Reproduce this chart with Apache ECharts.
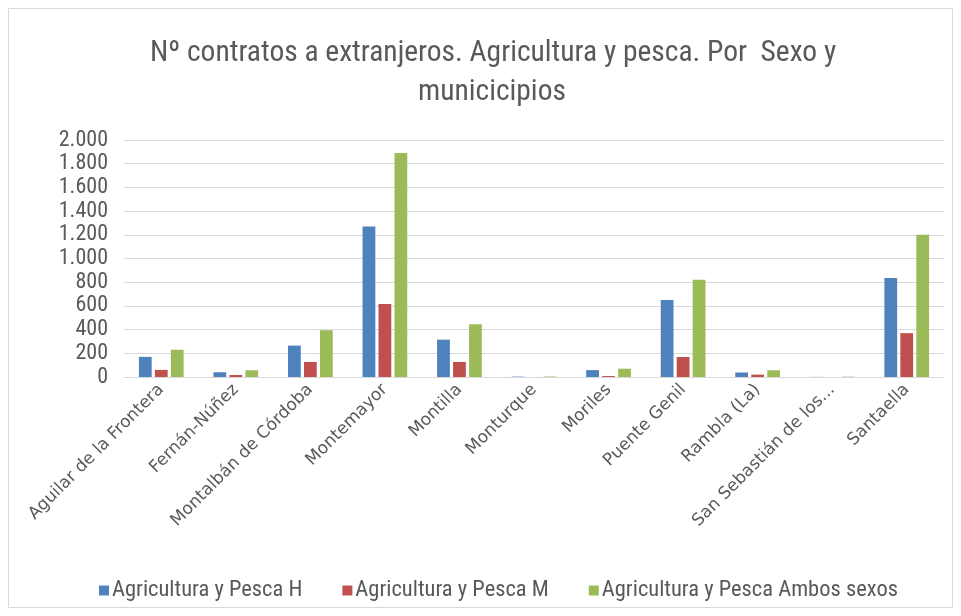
<!DOCTYPE html>
<html><head><meta charset="utf-8">
<script src="https://cdn.jsdelivr.net/npm/echarts@6/dist/echarts.min.js"></script>
<style>html,body{margin:0;padding:0;background:#fff}#c{width:961px;height:616px}</style>
</head><body><div id="c"></div>
<script>
const categories = ["Aguilar de la Frontera","Fernán-Núñez","Montalbán de Córdoba","Montemayor","Montilla","Monturque","Moriles","Puente Genil","Rambla (La)","San Sebastián de los...","Santaella"];
const seriesNames = ["Agricultura y Pesca H","Agricultura y Pesca M","Agricultura y Pesca Ambos sexos"];
const valuesH = [170, 40, 265, 1270, 315, 3, 58, 650, 38, 1, 835];
const valuesM = [60, 17, 127, 615, 127, 0, 8, 169, 20, 0, 370];
const valuesAmbos = [230, 57, 395, 1890, 445, 4, 70, 820, 57, 3, 1200];
const yTicks = [0, 200, 400, 600, 800, 1000, 1200, 1400, 1600, 1800, 2000];
const titleLines = ["Nº contratos a extranjeros. Agricultura y pesca. Por  Sexo y", "municicipios"];
const colors = ["#4F81BD", "#C0504D", "#9BBB59"];
const font = "'Roboto Condensed','Liberation Sans Narrow',Roboto,sans-serif";
const chart = echarts.init(document.getElementById('c'));
const fmt = v => v >= 1000 ? (Math.floor(v/1000) + '.' + String(v%1000).padStart(3,'0')) : String(v);
const titleStyle = {fontFamily: font, fontSize: 29.5, fontWeight: 'normal', color: '#595959', lineHeight: 40};
chart.setOption({
  animation: false,
  color: colors,
  graphic: [{type:'rect', shape:{x:8.5,y:8.5,width:944,height:599}, style:{fill:'none', stroke:'#d9d9d9', lineWidth:1}}],
  title: [
    {text: titleLines[0], left: 145, top: 29, textStyle: titleStyle},
    {text: titleLines[1], left: 413, top: 68, textStyle: titleStyle}
  ],
  legend: {
    bottom: 9, left: 94, itemWidth: 10, itemHeight: 10, itemGap: 40, icon: 'rect',
    textStyle: {fontFamily: font, fontSize: 22.5, color: '#595959', padding:[0,0,0,-2]},
    data: seriesNames
  },
  grid: {left: 124, right: 17, top: 140, bottom: 239, containLabel: false},
  xAxis: {
    type: 'category', data: categories,
    axisLine: {lineStyle: {color: '#d9d9d9', width: 1}},
    axisTick: {show: false},
    axisLabel: {rotate: 45, interval: 0, fontFamily: "'DejaVu Sans',sans-serif", fontSize: 17, color: '#595959', margin: 10}
  },
  yAxis: {
    type: 'value', min: yTicks[0], max: yTicks[yTicks.length-1], interval: 200,
    axisLine: {show: false}, axisTick: {show: false},
    splitLine: {lineStyle: {color: '#d9d9d9', width: 1}},
    axisLabel: {fontFamily: font, fontSize: 22, color: '#595959', margin: 16, formatter: fmt}
  },
  series: [
    {name: seriesNames[0], type: 'bar', data: valuesH, barGap: '25%', barCategoryGap: '40%'},
    {name: seriesNames[1], type: 'bar', data: valuesM, barGap: '25%', barCategoryGap: '40%'},
    {name: seriesNames[2], type: 'bar', data: valuesAmbos, barGap: '25%', barCategoryGap: '40%'}
  ]
});
</script></body></html>
